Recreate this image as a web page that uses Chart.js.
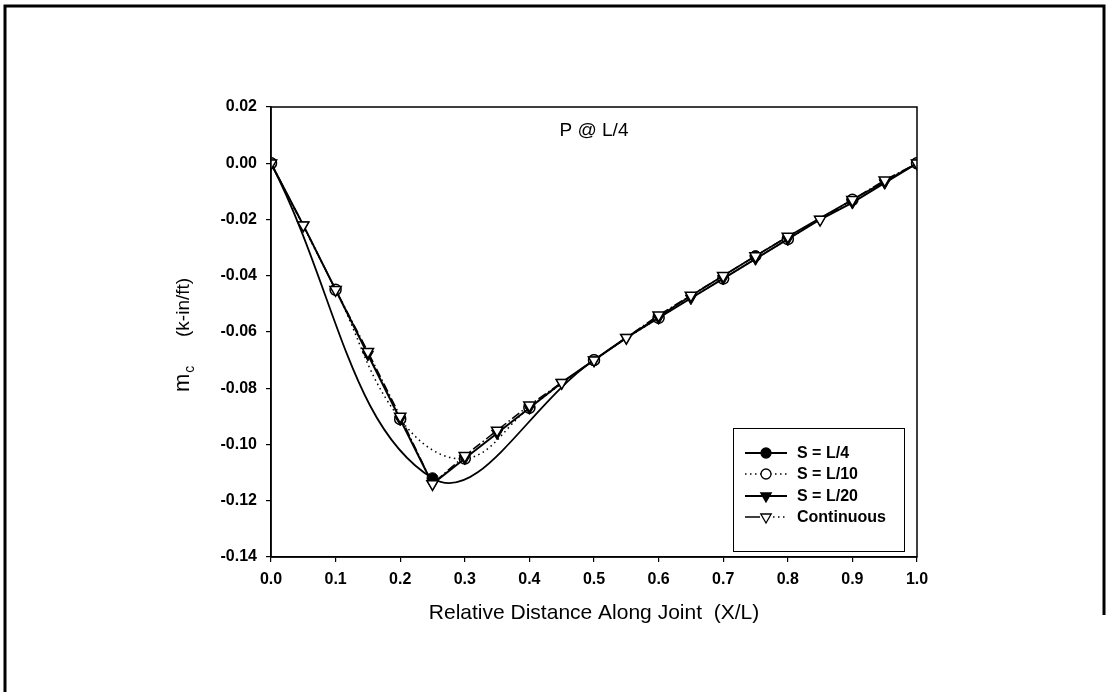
<!DOCTYPE html>
<html>
<head>
<meta charset="utf-8">
<script src="https://cdn.jsdelivr.net/npm/chart.js@4/dist/chart.umd.min.js"></script>
<style>
  html, body { margin: 0; padding: 0; background: #fff; }
  #wrap { width: 1111px; height: 692px; position: relative; }
</style>
</head>
<body>
<div id="wrap"><canvas id="c" width="1111" height="692"></canvas></div>
<script>
// ---- Data ----
const titleText = "P @ L/4";
const xAxisTitle = "Relative Distance Along Joint  (X/L)";
const yTitleMain = "m";
const yTitleSub = "c";
const yTitleUnit = "(k-in/ft)";

const seriesNames = ["S = L/4", "S = L/10", "S = L/20", "Continuous"];

const xL4 = [0.0, 0.25, 0.5, 0.75, 1.0];
const yL4 = [0.0, -0.112, -0.070, -0.033, 0.0];

const xL10 = [0.0, 0.1, 0.2, 0.3, 0.4, 0.5, 0.6, 0.7, 0.8, 0.9, 1.0];
const yL10 = [0.0, -0.045, -0.091, -0.105, -0.087, -0.070, -0.055, -0.041, -0.027, -0.013, 0.0];

const xL20 = [0.0, 0.05, 0.1, 0.15, 0.2, 0.25, 0.3, 0.35, 0.4, 0.45, 0.5, 0.55, 0.6, 0.65, 0.7, 0.75, 0.8, 0.85, 0.9, 0.95, 1.0];
const yL20 = [0.0, -0.022, -0.045, -0.068, -0.091, -0.114, -0.105, -0.096, -0.087, -0.078, -0.070, -0.062, -0.055, -0.048, -0.041, -0.034, -0.027, -0.020, -0.014, -0.007, 0.0];

const xCont = [0.0, 0.05, 0.1, 0.15, 0.2, 0.25, 0.3, 0.35, 0.4, 0.45, 0.5, 0.55, 0.6, 0.65, 0.7, 0.75, 0.8, 0.85, 0.9, 0.95, 1.0];
const yCont = [0.0, -0.022, -0.045, -0.067, -0.090, -0.114, -0.104, -0.095, -0.086, -0.078, -0.070, -0.062, -0.054, -0.047, -0.040, -0.033, -0.026, -0.020, -0.013, -0.006, 0.0];

const xTicks = { min: 0.0, max: 1.0, step: 0.1 };
const yTicks = { min: -0.14, max: 0.02, step: 0.02 };

function pts(xs, ys) { return xs.map((x, i) => ({ x: x, y: ys[i] })); }

const FONT = '"Liberation Sans", Arial, Helvetica, sans-serif';

// chart area target in pixels
const AREA = { left: 271, top: 107, right: 917, bottom: 557 };

const overlay = {
  id: 'overlay',
  afterDraw(chart) {
    const ctx = chart.ctx;
    const a = chart.chartArea;
    ctx.save();
    // outer page frame
    ctx.strokeStyle = '#000';
    ctx.lineWidth = 3;
    ctx.beginPath();
    ctx.moveTo(5, 692); ctx.lineTo(5, 6); ctx.lineTo(1104, 6); ctx.lineTo(1104, 615);
    ctx.stroke();

    // plot frame
    ctx.lineWidth = 1.5;
    ctx.strokeRect(a.left, a.top, a.right - a.left, a.bottom - a.top);

    // inside title
    ctx.fillStyle = '#000';
    ctx.font = '19px ' + FONT;
    ctx.textAlign = 'center';
    ctx.textBaseline = 'middle';
    const xs = chart.scales.x;
    ctx.fillText(titleText, xs.getPixelForValue(0.5), 131);

    // x axis title
    ctx.font = '21px ' + FONT;
    ctx.fillText(xAxisTitle, (a.left + a.right) / 2, 613);

    // y axis title with subscript (reads bottom to top)
    ctx.save();
    ctx.translate(182, 0);
    ctx.rotate(-Math.PI / 2);
    ctx.textAlign = 'left';
    ctx.textBaseline = 'alphabetic';
    ctx.font = '22px ' + FONT;
    const wm = ctx.measureText(yTitleMain).width;
    ctx.fillText(yTitleMain, -392, 7);
    ctx.font = '14px ' + FONT;
    ctx.fillText(yTitleSub, -392 + wm + 1, 12);
    ctx.font = '19px ' + FONT;
    ctx.fillText(yTitleUnit, -337, 7);
    ctx.restore();

    // legend box
    const L = { l: 733, t: 428, r: 904, b: 551 };
    ctx.fillStyle = '#fff';
    ctx.fillRect(L.l, L.t, L.r - L.l, L.b - L.t);
    ctx.strokeStyle = '#000';
    ctx.lineWidth = 1;
    ctx.strokeRect(L.l + 0.5, L.t + 0.5, L.r - L.l, L.b - L.t);
    const rows = [453, 474, 496, 517];
    const dashes = [[], [1.5, 3.5], [], null];
    const widths = [1.8, 1.5, 2, 1.5];
    rows.forEach((y, i) => {
      ctx.strokeStyle = '#000';
      ctx.lineWidth = widths[i];
      if (i === 3) {
        ctx.setLineDash([]);
        ctx.beginPath(); ctx.moveTo(745, y); ctx.lineTo(760, y); ctx.stroke();
        ctx.setLineDash([1.5, 3.5]);
        ctx.beginPath(); ctx.moveTo(773, y); ctx.lineTo(787, y); ctx.stroke();
      } else {
        ctx.setLineDash(dashes[i]);
        ctx.beginPath(); ctx.moveTo(745, y); ctx.lineTo(787, y); ctx.stroke();
      }
      ctx.setLineDash([]);
      ctx.lineWidth = 1.3;
      const mx = 766;
      if (i < 2) {
        ctx.beginPath(); ctx.arc(mx, y, 5, 0, Math.PI * 2);
        ctx.fillStyle = i === 0 ? '#000' : '#fff';
        ctx.fill(); ctx.stroke();
      } else {
        const r = 6;
        ctx.beginPath();
        ctx.moveTo(mx - r * 0.866, y - r * 0.5);
        ctx.lineTo(mx + r * 0.866, y - r * 0.5);
        ctx.lineTo(mx, y + r);
        ctx.closePath();
        ctx.fillStyle = i === 2 ? '#000' : '#fff';
        ctx.fill(); ctx.stroke();
      }
      ctx.fillStyle = '#000';
      ctx.font = 'bold 16px ' + FONT;
      ctx.textAlign = 'left';
      ctx.textBaseline = 'middle';
      ctx.fillText(seriesNames[i], 797, y + 1);
    });
    ctx.restore();
  }
};

const chart = new Chart(document.getElementById('c'), {
  type: 'scatter',
  data: {
    datasets: [
      {
        label: seriesNames[0], data: pts(xL4, yL4), showLine: true, order: 3,
        borderColor: '#000', borderWidth: 1.8, tension: 0.4,
        pointStyle: 'circle', pointRadius: 5.5, pointBackgroundColor: '#000',
        pointBorderColor: '#000', pointBorderWidth: 1
      },
      {
        label: seriesNames[1], data: pts(xL10, yL10), showLine: true, order: 2,
        borderColor: '#000', borderWidth: 1.5, borderDash: [1.5, 3.5], tension: 0.4,
        pointStyle: 'circle', pointRadius: 5.5, pointBackgroundColor: '#fff',
        pointBorderColor: '#000', pointBorderWidth: 1.5
      },
      {
        label: seriesNames[2], data: pts(xL20, yL20), showLine: true, order: 1,
        borderColor: '#000', borderWidth: 2, tension: 0,
        pointStyle: 'triangle', pointRotation: 180, pointRadius: 6.5,
        pointBackgroundColor: '#000', pointBorderColor: '#000', pointBorderWidth: 1
      },
      {
        label: seriesNames[3], data: pts(xCont, yCont), showLine: true, order: 0,
        borderColor: '#000', borderWidth: 1.5, borderDash: [9, 3, 1.5, 3], tension: 0,
        pointStyle: 'triangle', pointRotation: 180, pointRadius: 6.5,
        pointBackgroundColor: '#fff', pointBorderColor: '#000', pointBorderWidth: 1.5
      }
    ]
  },
  options: {
    responsive: false,
    animation: false,
    devicePixelRatio: 1,
    layout: { padding: { left: 0, top: AREA.top, right: 1111 - AREA.right, bottom: 0 } },
    plugins: { legend: { display: false }, tooltip: { enabled: false }, title: { display: false } },
    scales: {
      x: {
        type: 'linear', min: xTicks.min, max: xTicks.max,
        afterFit(s) { s.height = 692 - AREA.bottom; },
        ticks: {
          stepSize: xTicks.step, color: '#000', padding: 8,
          font: { family: FONT, size: 16, weight: 'bold' },
          callback: v => (Math.abs(v) < 1e-9 ? 0 : v).toFixed(1)
        },
        grid: { drawOnChartArea: false, drawTicks: true, tickLength: 5, color: '#000', lineWidth: 1.2 },
        border: { display: true, color: '#000', width: 1.5 }
      },
      y: {
        type: 'linear', min: yTicks.min, max: yTicks.max,
        afterFit(s) { s.width = AREA.left; },
        ticks: {
          stepSize: yTicks.step, color: '#000', padding: 9,
          font: { family: FONT, size: 16, weight: 'bold' },
          callback: v => (Math.abs(v) < 1e-9 ? 0 : v).toFixed(2)
        },
        grid: { drawOnChartArea: false, drawTicks: true, tickLength: 5, color: '#000', lineWidth: 1.2 },
        border: { display: true, color: '#000', width: 1.5 }
      }
    }
  },
  plugins: [overlay]
});
</script>
</body>
</html>
